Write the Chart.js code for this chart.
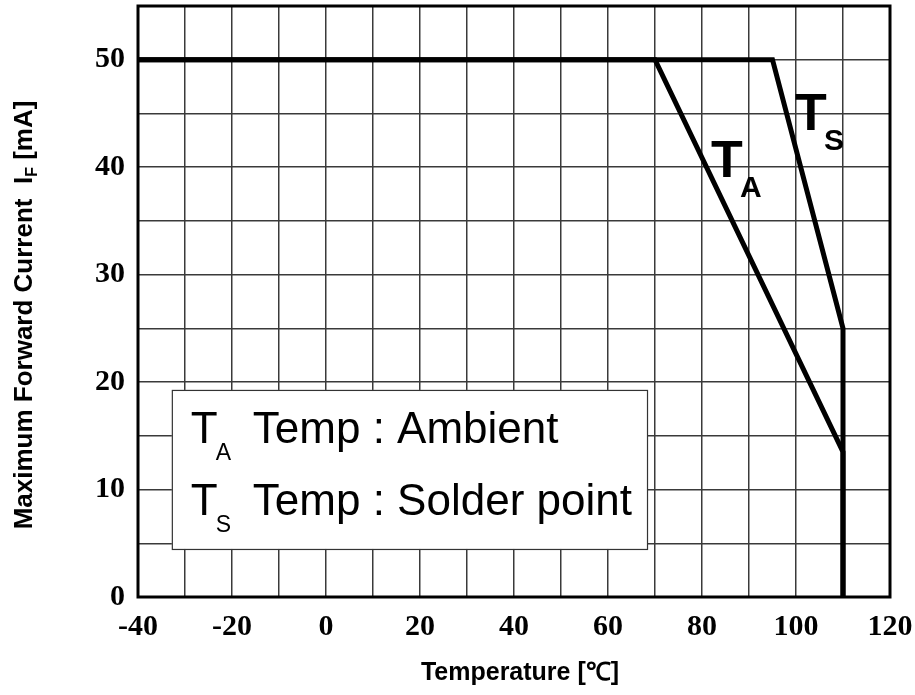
<!DOCTYPE html>
<html>
<head>
<meta charset="utf-8">
<script src="https://cdn.jsdelivr.net/npm/chart.js@4.4.1/dist/chart.umd.min.js"></script>
<style>
  html, body { margin: 0; padding: 0; background: #fff; }
  #wrap { width: 915px; height: 695px; }
</style>
</head>
<body>
<div id="wrap"><canvas id="derating" width="915" height="695"></canvas></div>
<script>
/* ── Derating curves: max forward current vs temperature ── */
const tempAmbient = [-40, 70, 110, 110];
const currAmbient = [50, 50, 13.5, 0];
const tempSolder  = [-40, 95, 110, 110];
const currSolder  = [50, 50, 25, 0];

const xLabels = [-40, -20, 0, 20, 40, 60, 80, 100, 120];
const yLabels = [0, 10, 20, 30, 40, 50];

const legendRows = [
  { sub: 'A', text: 'Temp : Ambient' },
  { sub: 'S', text: 'Temp : Solder point' },
];

const SANS  = '"Liberation Sans", Arial, Helvetica, sans-serif';
const SERIF = '"Liberation Serif", "Times New Roman", serif';

const toXY = (xs, ys) => xs.map((x, i) => ({ x, y: ys[i] }));

// "T" + lowered subscript (+ optional trailing text at a fixed offset)
function subText(ctx, x, y, o) {
  ctx.save();
  ctx.fillStyle = '#000';
  ctx.textBaseline = 'alphabetic';
  ctx.textAlign = 'left';
  ctx.font = o.font;
  ctx.fillText(o.main, x, y);
  const subX = x + (o.subX != null ? o.subX : ctx.measureText(o.main).width);
  ctx.font = o.subFont;
  ctx.fillText(o.sub, subX, y + o.subDrop);
  if (o.rest) {
    const restX = o.restX != null ? x + o.restX : subX + ctx.measureText(o.sub).width;
    ctx.font = o.restFont || o.font;
    ctx.fillText(o.rest, restX, y);
  }
  ctx.restore();
}

const zeroPad = s => { s.paddingTop = s.paddingBottom = s.paddingLeft = s.paddingRight = 0; };

/* ── Frame, legend box, curve labels, axis titles ── */
const overlay = {
  id: 'overlay',
  afterDatasetsDraw(chart) {
    const { ctx, scales: { x, y } } = chart;

    // legend box
    const bx0 = x.getPixelForValue(-32.8), bx1 = x.getPixelForValue(68.3);
    const by0 = y.getPixelForValue(19.27), by1 = y.getPixelForValue(4.47);
    ctx.save();
    ctx.fillStyle = '#fff';
    ctx.fillRect(bx0, by0, bx1 - bx0, by1 - by0);
    ctx.strokeStyle = '#333';
    ctx.lineWidth = 1.2;
    ctx.strokeRect(bx0 + 0.5, by0 + 0.5, bx1 - bx0, by1 - by0);
    ctx.restore();

    legendRows.forEach((r, i) => {
      subText(ctx, bx0 + 19, by0 + 53 + i * 72, {
        main: 'T', sub: r.sub, rest: r.text,
        font: '44px ' + SANS, subFont: '23px ' + SANS,
        subX: 25, subDrop: 17, restX: 62,
      });
    });

    // curve labels
    const big = { main: 'T', font: 'bold 52px ' + SANS, subFont: 'bold 30px ' + SANS, subX: 29, subDrop: 20 };
    subText(ctx, x.getPixelForValue(81.9), y.getPixelForValue(39.1), Object.assign({ sub: 'A' }, big));
    subText(ctx, x.getPixelForValue(99.8), y.getPixelForValue(43.5), Object.assign({ sub: 'S' }, big));
  },
  afterDraw(chart) {
    const { ctx, chartArea: a } = chart;
    ctx.save();
    ctx.strokeStyle = '#000';
    ctx.lineWidth = 3;
    ctx.strokeRect(a.left, a.top, a.right - a.left, a.bottom - a.top);

    // x title
    ctx.fillStyle = '#000';
    ctx.font = 'bold 25px ' + SANS;
    ctx.textAlign = 'center';
    ctx.textBaseline = 'alphabetic';
    ctx.fillText('Temperature [\u2103]', (a.left + a.right) / 2 + 6, 680);
    ctx.restore();

    // y title, rotated, with subscript F
    const main = 'Maximum Forward Current  I', rest = ' [mA]';
    ctx.save();
    ctx.font = 'bold 26px ' + SANS;
    const w1 = ctx.measureText(main).width, w3 = ctx.measureText(rest).width;
    ctx.font = 'bold 16px ' + SANS;
    const w2 = ctx.measureText('F').width;
    ctx.translate(32, 315);
    ctx.rotate(-Math.PI / 2);
    subText(ctx, -(w1 + w2 + w3) / 2, 0, {
      main, sub: 'F', rest,
      font: 'bold 26px ' + SANS, subFont: 'bold 16px ' + SANS, subDrop: 5,
    });
    ctx.restore();
  },
};

const tickFont = { family: SERIF, size: 30, weight: 'bold' };
const gridOpts = { color: '#3a3a3a', lineWidth: 1.5, drawTicks: false };

new Chart(document.getElementById('derating'), {
  type: 'scatter',
  data: {
    datasets: [
      { label: 'TA', data: toXY(tempAmbient, currAmbient), showLine: true,
        borderColor: '#000', borderWidth: 5, pointRadius: 0, tension: 0 },
      { label: 'TS', data: toXY(tempSolder, currSolder), showLine: true,
        borderColor: '#000', borderWidth: 5, pointRadius: 0, tension: 0 },
    ],
  },
  options: {
    responsive: false,
    animation: false,
    layout: { padding: { top: 6, right: 25, left: 0, bottom: 0 } },
    plugins: { legend: { display: false }, tooltip: { enabled: false } },
    scales: {
      x: {
        type: 'linear', min: -40, max: 120,
        afterFit: s => { s.height = 98; zeroPad(s); },
        ticks: {
          stepSize: 10, autoSkip: false, maxRotation: 0, padding: 12,
          color: '#000', font: tickFont,
          callback: v => xLabels.includes(v) ? String(v) : '',
        },
        grid: gridOpts,
        border: { display: false },
      },
      y: {
        type: 'linear', min: 0, max: 55,
        afterFit: s => { s.width = 138; zeroPad(s); },
        ticks: {
          stepSize: 5, autoSkip: false, padding: 13,
          color: '#000', font: tickFont,
          callback: v => yLabels.includes(v) ? String(v) : '',
        },
        grid: gridOpts,
        border: { display: false },
      },
    },
  },
  plugins: [overlay],
});
</script>
</body>
</html>
